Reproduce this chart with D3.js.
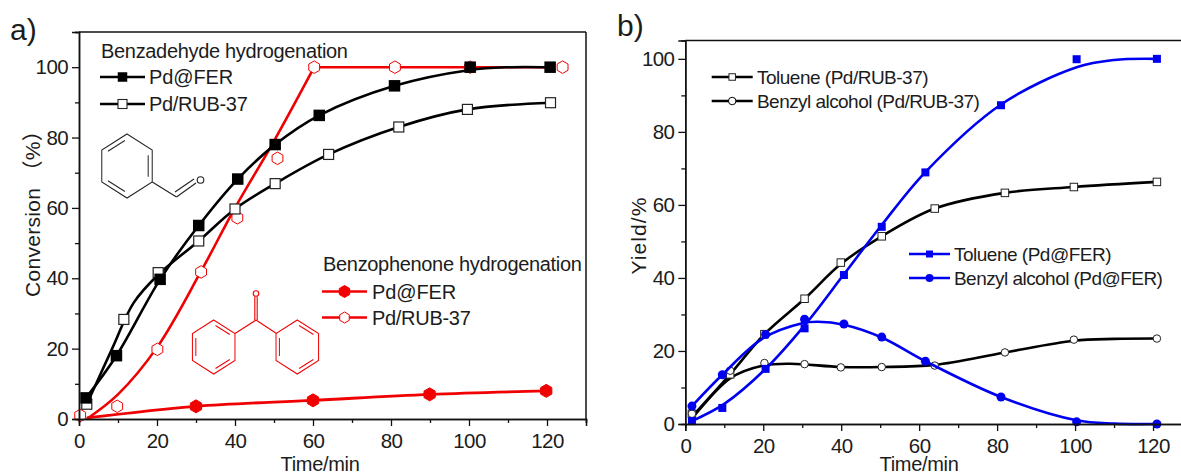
<!DOCTYPE html>
<html>
<head>
<meta charset="utf-8">
<script src="https://cdn.jsdelivr.net/npm/d3@7"></script>
<style>
  body { margin: 0; background: #fff; }
  svg { display: block; }
  text { font-family: "Liberation Sans", "Noto Sans CJK SC", sans-serif; fill: #1c1c1c; }
</style>
</head>
<body>
<div id="chart"></div>
<script>
// panel a, measured points
var aFerX = [1.8, 9.6, 20.8, 30.7, 40.7, 50.3, 61.6, 80.9, 100.3, 120.8];
var aFerY = [6, 18, 39.7, 55, 68.2, 78, 86.3, 94.7, 100, 100];
var aRubX = [2, 11.5, 20.3, 30.7, 40, 50.3, 64, 82, 99.6, 120.9];
var aRubY = [4.2, 28.3, 41.6, 50.6, 59.7, 66.9, 75.2, 83, 88, 89.9];
var aPhenFerX = [30, 60, 89.9, 119.8];
var aPhenFerY = [3.6, 5.3, 7, 8];
var aPhenRubX = [0.3, 9.8, 20.1, 31.3, 40.6, 50.9, 60.3, 81, 100.3, 124];
var aPhenRubY = [1, 3.6, 19.8, 41.8, 57.2, 74.1, 100, 100, 100, 100];

// panel a, fitted lines (they miss some of the points)
var aFerFitX = [1.8, 9.6, 20.8, 30.7, 40.7, 50.3, 61.6, 80.9, 100.3, 110, 120.8];
var aFerFitY = [6, 18, 39.7, 55, 68.2, 78, 86.3, 94.7, 99.2, 100, 100];
var aRubFitX = [2, 8.5, 14, 20.3, 30.7, 40, 50.3, 64, 82, 99.6, 120.9];
var aRubFitY = [4.2, 20, 33, 41, 50.6, 59.7, 66.9, 75.2, 83, 88, 89.9];
var aPhenFerFitX = [2, 30, 60, 89.9, 119.8];
var aPhenFerFitY = [0.3, 3.6, 5.3, 7, 8];
var aPhenRubFitX = [2, 10, 20.1, 31.3, 40, 50, 60.3];
var aPhenRubFitY = [0, 7, 20.5, 42, 60, 79, 100];
var aPhenRubFlatX = [60.3, 122];
var aPhenRubFlatY = [100, 100];

// panel b, measured points
var bTolFerX = [1.7, 9.5, 20.6, 30.6, 40.7, 50.4, 61.6, 81, 100.4, 121];
var bTolFerY = [0.8, 4.4, 15.1, 26.2, 40.8, 54, 68.9, 87.3, 99.9, 100];
var bAlcFerX = [1.7, 9.5, 20.6, 30.6, 40.7, 50.4, 61.6, 81, 100.4, 121];
var bAlcFerY = [4.9, 13.5, 24.5, 28.7, 27.4, 23.8, 17.2, 7.4, 0.6, 0];
var bTolRubX = [1.7, 11.5, 20.3, 30.6, 39.9, 50.4, 64, 82, 99.7, 121];
var bTolRubY = [2.8, 13.6, 24.6, 34.3, 44.2, 51.4, 59, 63.3, 64.9, 66.3];
var bAlcRubX = [1.7, 11.5, 20.3, 30.6, 39.9, 50.4, 64, 82, 99.7, 121];
var bAlcRubY = [2.8, 14.6, 16.7, 16.4, 15.5, 15.6, 16, 19.6, 23.1, 23.4];

// panel b, fitted lines
var bTolFerFitX = [1.7, 10, 20.6, 30.6, 40.7, 50.4, 61.6, 81, 100.4, 110, 121];
var bTolFerFitY = [0.8, 5.5, 15.1, 27, 41, 54.5, 69, 87.5, 97.7, 99.7, 100];
var bAlcFerFitX = [1.7, 9.5, 20, 30, 34, 40.7, 50.4, 61.6, 81, 100.4, 110, 121];
var bAlcFerFitY = [4.9, 13.5, 23.5, 27.6, 28, 27.2, 23.7, 17.2, 7.4, 1, 0.1, 0];
var bTolRubFitX = [1.7, 11.5, 20.3, 30.6, 39.9, 50.4, 64, 82, 99.7, 121];
var bTolRubFitY = [2, 13.6, 24.6, 34.3, 43.8, 51.4, 59, 63.3, 64.9, 66.3];
var bAlcRubFitX = [1.7, 11.5, 20, 27, 39.9, 50.4, 64, 82, 99.7, 110, 121];
var bAlcRubFitY = [1.5, 12.5, 16, 16.5, 15.6, 15.6, 16.2, 19.6, 22.8, 23.3, 23.4];

var xMajor = [0, 20, 40, 60, 80, 100, 120];
var xMinor = [10, 30, 50, 70, 90, 110, 130];
var yMajor = [0, 20, 40, 60, 80, 100];
var aYMinor = [10, 30, 50, 70, 90, 110];
var bYMinor = [10, 30, 50, 70, 90];

var svg = d3.select("#chart").append("svg").attr("width", 1181).attr("height", 474);

var xA = d3.scaleLinear().domain([0, 130]).range([79, 586]);
var yA = d3.scaleLinear().domain([0, 110]).range([419, 32]);
var xB = d3.scaleLinear().domain([0, 130]).range([685.3, 1192]);
var yB = d3.scaleLinear().domain([0, 105]).range([424, 40.6]);

var RED = "#f00000", BLUE = "#0000f0", BLACK = "#000";

function zip(xs, ys) {
  return xs.map(function(v, i) { return [v, ys[i]]; });
}

function fit(x, y, xs, ys, color, w) {
  var line = d3.line().curve(d3.curveCatmullRom)
    .x(function(d) { return x(d[0]); })
    .y(function(d) { return y(d[1]); });
  svg.append("path").attr("d", line(zip(xs, ys)))
    .attr("fill", "none").attr("stroke", color).attr("stroke-width", w || 2.6);
}

function hexPath(r) {
  var p = d3.path();
  d3.range(6).forEach(function(i) {
    var a = Math.PI / 3 * i;
    if (i === 0) p.moveTo(r * Math.sin(a), -r * Math.cos(a));
    else p.lineTo(r * Math.sin(a), -r * Math.cos(a));
  });
  p.closePath();
  return p.toString();
}

// one marker, kind is square / circle / hex
function marker(g, kind, size, fill, stroke, sw) {
  var m;
  if (kind === "square") {
    m = g.append("rect").attr("x", -size / 2).attr("y", -size / 2).attr("width", size).attr("height", size);
  } else if (kind === "circle") {
    m = g.append("circle").attr("r", size / 2);
  } else {
    m = g.append("path").attr("d", hexPath(size / 2));
  }
  m.attr("fill", fill).attr("stroke", stroke).attr("stroke-width", sw);
}

function points(x, y, xs, ys, kind, size, fill, stroke, sw) {
  zip(xs, ys).forEach(function(d) {
    var g = svg.append("g").attr("transform", "translate(" + x(d[0]) + "," + y(d[1]) + ")");
    marker(g, kind, size, fill, stroke, sw);
  });
}

function label(px, py, str, size, spacing) {
  return svg.append("text").attr("x", px).attr("y", py).attr("font-size", size)
    .attr("letter-spacing", spacing + "px").text(str);
}

function legendRow(x0, x1, py, color, kind, size, fill, sw, str, textX, fs, spacing) {
  svg.append("line").attr("x1", x0).attr("x2", x1).attr("y1", py).attr("y2", py)
    .attr("stroke", color).attr("stroke-width", 2.6);
  var g = svg.append("g").attr("transform", "translate(" + ((x0 + x1) / 2) + "," + py + ")");
  marker(g, kind, size, fill, kind === "square" && fill === "#fff" ? "#222" : color, sw);
  label(textX, py + 7, str, fs, spacing);
}

function axes(x, y, yMinor) {
  var left = x.range()[0], right = x.range()[1], top = y.range()[1], bottom = y.range()[0];

  var ax = svg.append("g").attr("transform", "translate(0," + bottom + ")");
  ax.call(d3.axisBottom(x).tickValues(xMajor).tickSize(7).tickPadding(7.5).tickFormat(d3.format("d")));
  var ay = svg.append("g").attr("transform", "translate(" + left + ",0)");
  ay.call(d3.axisLeft(y).tickValues(yMajor).tickSize(7).tickPadding(4).tickFormat(d3.format("d")));

  svg.append("g").attr("transform", "translate(0," + bottom + ")")
    .call(d3.axisBottom(x).tickValues(xMinor).tickSize(4).tickFormat(""));
  svg.append("g").attr("transform", "translate(" + left + ",0)")
    .call(d3.axisLeft(y).tickValues(yMinor).tickSize(4).tickFormat(""));

  svg.selectAll(".domain").attr("stroke", "#111").attr("stroke-width", 1.5);
  svg.selectAll(".tick line").attr("stroke", "#111").attr("stroke-width", 1.3);
  svg.selectAll(".tick text").attr("font-size", 20.5).attr("font-family", "Liberation Sans").attr("fill", "#1c1c1c").attr("letter-spacing", "-0.6px");

  // plain frame on the top and right
  svg.append("line").attr("x1", left).attr("x2", right).attr("y1", top).attr("y2", top)
    .attr("stroke", "#111").attr("stroke-width", 1.5);
  svg.append("line").attr("x1", right).attr("x2", right).attr("y1", top).attr("y2", bottom)
    .attr("stroke", "#111").attr("stroke-width", 1.5);
}

// ring drawn around a centre, inner lines on the listed bonds, a bit narrower than a true hexagon
function ring(cx, cy, r, color, doubles) {
  var g = svg.append("g").attr("transform", "translate(" + cx + "," + cy + ") scale(0.91,1)");
  g.append("path").attr("d", hexPath(r)).attr("fill", "none").attr("stroke", color).attr("stroke-width", 1.1);
  doubles.forEach(function(i) {
    var a0 = Math.PI / 3 * i, a1 = Math.PI / 3 * (i + 1), k = 0.84;
    var s = 0.1;
    var ax = r * k * Math.sin(a0), ay = -r * k * Math.cos(a0);
    var bx = r * k * Math.sin(a1), by = -r * k * Math.cos(a1);
    g.append("line")
      .attr("x1", ax + (bx - ax) * s).attr("y1", ay + (by - ay) * s)
      .attr("x2", bx - (bx - ax) * s).attr("y2", by - (by - ay) * s)
      .attr("stroke", color).attr("stroke-width", 1.1);
  });
}

function bond(x1, y1, x2, y2, color) {
  svg.append("line").attr("x1", x1).attr("y1", y1).attr("x2", x2).attr("y2", y2)
    .attr("stroke", color).attr("stroke-width", 1.1);
}

function oxygen(cx, cy, r, color) {
  svg.append("circle").attr("cx", cx).attr("cy", cy).attr("r", r)
    .attr("fill", "#fff").attr("stroke", color).attr("stroke-width", 1.1);
}

// ---- panel a ----
fit(xA, yA, aPhenFerFitX, aPhenFerFitY, RED, 2.8);
fit(xA, yA, aPhenRubFitX, aPhenRubFitY, RED);
fit(xA, yA, aPhenRubFlatX, aPhenRubFlatY, RED);
points(xA, yA, aPhenRubX, aPhenRubY, "hex", 12.5, "#fff", RED, 1);
points(xA, yA, aPhenFerX, aPhenFerY, "hex", 13, RED, RED, 1);
fit(xA, yA, aFerFitX, aFerFitY, BLACK);
fit(xA, yA, aRubFitX, aRubFitY, BLACK);
points(xA, yA, aRubX, aRubY, "square", 10, "#fff", "#222", 1.2);
points(xA, yA, aFerX, aFerY, "square", 11.5, BLACK, BLACK, 0);
axes(xA, yA, aYMinor);

label(10, 40, "a)", 30, 0);
label(101, 58, "Benzadehyde hydrogenation", 20, -0.32);
legendRow(100, 145, 77, BLACK, "square", 9.5, BLACK, 0, "Pd@FER", 149, 20, -0.1);
legendRow(100, 145, 104, BLACK, "square", 9, "#fff", 1.1, "Pd/RUB-37", 149, 20, -0.3);
label(323, 271, "Benzophenone hydrogenation", 20, -0.32);
legendRow(322, 367, 291.5, RED, "hex", 12, RED, 1, "Pd@FER", 372, 20, -0.1);
legendRow(322, 367, 317.5, RED, "hex", 11, "#fff", 1, "Pd/RUB-37", 372, 20, -0.3);

label(0, 0, "Time/min", 20, -0.3).attr("text-anchor", "middle").attr("transform", "translate(320,471)");
label(0, 0, "Conversion \uff08%\uff09", 21, 0.3).attr("text-anchor", "middle").attr("transform", "translate(40,208.5) rotate(-90)");

ring(127, 166, 32, "#222", [1, 3, 5]);
bond(152.3, 182, 176.5, 197, "#222");
bond(176.5, 197, 196, 183, "#222");
bond(175, 192, 194, 179, "#222");
oxygen(200.5, 180, 3.3, "#222");

ring(213.7, 347, 27, RED, [0, 2, 4]);
ring(297.3, 347, 27, RED, [0, 2, 4]);
bond(235, 333.5, 256, 320, RED);
bond(256, 320, 276.5, 333.5, RED);
bond(254.8, 320, 254.8, 297, RED);
bond(257.2, 320, 257.2, 297, RED);
oxygen(256, 293.5, 2.8, RED);

// ---- panel b ----
fit(xB, yB, bAlcRubFitX, bAlcRubFitY, BLACK);
fit(xB, yB, bTolRubFitX, bTolRubFitY, BLACK);
points(xB, yB, bTolRubX, bTolRubY, "square", 7.5, "#fff", "#222", 1);
points(xB, yB, bAlcRubX, bAlcRubY, "circle", 7.5, "#fff", "#222", 1);
fit(xB, yB, bTolFerFitX, bTolFerFitY, BLUE);
fit(xB, yB, bAlcFerFitX, bAlcFerFitY, BLUE);
points(xB, yB, bTolFerX, bTolFerY, "square", 8, BLUE, BLUE, 0);
points(xB, yB, bAlcFerX, bAlcFerY, "circle", 9, BLUE, BLUE, 0);
axes(xB, yB, bYMinor);

label(617, 36, "b)", 30, 0);
legendRow(711.7, 752.7, 77, BLACK, "square", 6.5, "#fff", 1, "Toluene (Pd/RUB-37)", 757, 19, -0.5);
legendRow(711.7, 752.7, 101, BLACK, "circle", 7.5, "#fff", 1, "Benzyl alcohol (Pd/RUB-37)", 757, 19, -0.55);
legendRow(909, 950, 254, BLUE, "square", 7, BLUE, 0, "Toluene (Pd@FER)", 954, 19, -0.5);
legendRow(909, 950, 278, BLUE, "circle", 8, BLUE, 0, "Benzyl alcohol (Pd@FER)", 954, 19, -0.55);

label(0, 0, "Time/min", 20, -0.3).attr("text-anchor", "middle").attr("transform", "translate(919,471)");
label(0, 0, "Yield/%", 21, 1.1).attr("text-anchor", "middle").attr("transform", "translate(646,235.5) rotate(-90)");
</script>
</body>
</html>
